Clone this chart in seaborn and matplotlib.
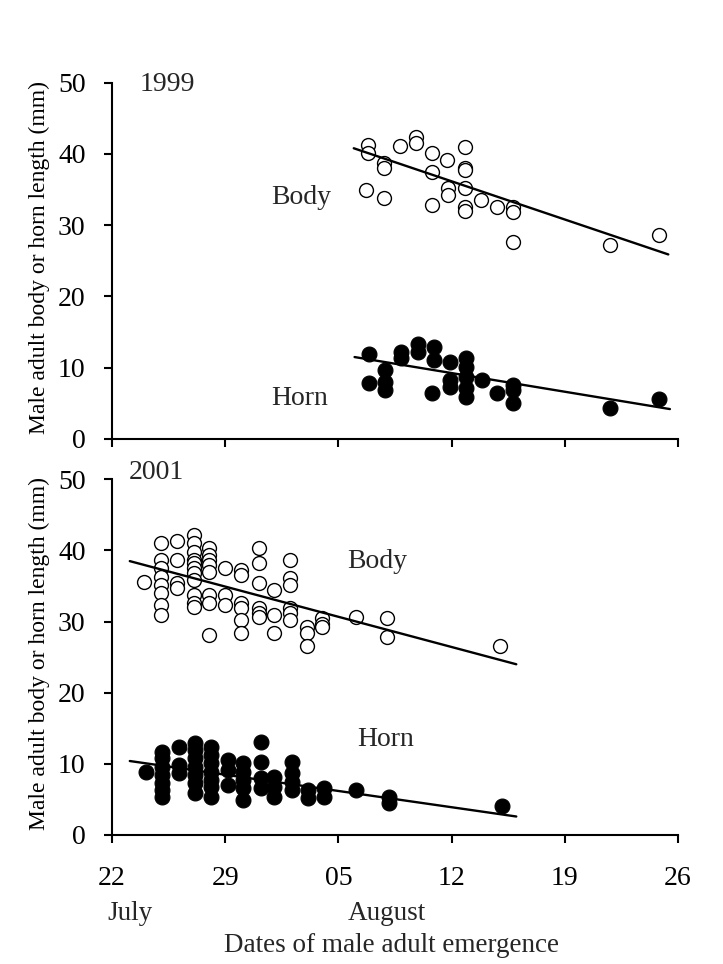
import matplotlib
matplotlib.use("Agg")
import matplotlib.pyplot as plt
import seaborn as sns

# ---------------- data (days after 22 July) ----------------
day_ticks = [0, 7, 14, 21, 28, 35]
day_tick_labels = ["22", "29", "05", "12", "19", "26"]

# 1999 panel
body99_day = [15.8, 15.8, 16.8, 16.8, 15.7, 16.8, 17.8, 18.8, 18.8, 19.8, 19.8, 19.8, 20.7, 20.8,
              20.8, 21.8, 21.8, 21.8, 21.8, 21.8, 21.8, 22.8, 23.8, 24.8, 24.8, 24.8, 30.8, 33.8]
body99_val = [41.2, 40.1, 38.7, 38.0, 34.9, 33.8, 41.1, 42.4, 41.5, 40.1, 37.5, 32.8, 39.1, 35.2,
              34.2, 41.0, 38.0, 37.8, 35.2, 32.6, 32.0, 33.5, 32.5, 32.5, 31.9, 27.7, 27.2, 28.6]
horn99_day = [15.9, 15.9, 16.9, 16.9, 16.9, 17.9, 17.9, 18.9, 18.9, 19.9, 19.9, 19.8, 20.9, 20.9,
              20.9, 21.9, 21.9, 21.9, 21.9, 21.9, 22.9, 23.8, 24.8, 24.8, 24.8, 30.8, 33.8]
horn99_val = [11.9, 7.8, 9.7, 8.0, 6.9, 12.2, 11.3, 13.4, 12.2, 12.9, 11.1, 6.4, 10.8, 8.3,
              7.3, 11.3, 10.1, 8.7, 7.1, 5.9, 8.3, 6.4, 7.6, 6.9, 5.0, 4.3, 5.6]
body99_fit_day = [14.95, 34.4]
body99_fit_val = [40.8, 25.9]
horn99_fit_day = [15.0, 34.5]
horn99_fit_val = [11.5, 4.2]

# 2001 panel
body01_day = ([2.0] + [3.0] * 8 + [4.05] * 4 + [5.1] * 11 + [6.0] * 8 + [7.0] * 3 + [8.0] * 6
              + [9.1] * 6 + [10.0] * 3 + [11.0] * 6 + [12.05] * 3 + [13.0] * 3 + [15.1] + [17.0] * 2 + [24.0])
body01_val = [35.5,
              41.0, 38.7, 37.5, 36.3, 35.2, 34.0, 32.3, 30.9,
              41.3, 38.7, 35.4, 34.7,
              42.2, 41.0, 39.8, 38.7, 38.2, 37.5, 36.8, 35.9, 33.8, 32.6, 32.1,
              40.3, 39.4, 38.7, 38.0, 37.0, 33.8, 32.6, 28.1,
              37.5, 33.8, 32.3,
              37.3, 36.6, 32.6, 31.9, 30.2, 28.4,
              40.3, 38.2, 35.4, 31.9, 31.2, 30.7,
              34.5, 30.9, 28.4,
              38.7, 36.1, 35.2, 31.9, 31.2, 30.2,
              29.3, 28.4, 26.5,
              30.5, 29.7, 29.3,
              30.7,
              30.5, 27.8,
              26.5]
horn01_day = ([2.1] + [3.1] * 7 + [4.15] * 3 + [5.15] * 7 + [6.1] * 7 + [7.15] * 3 + [8.1] * 5
              + [9.2] * 4 + [10.0] * 3 + [11.1] * 4 + [12.1] * 2 + [13.1] * 2 + [15.1] + [17.1] * 2 + [24.1])
horn01_val = [8.8,
              11.7, 10.8, 9.6, 8.4, 7.3, 6.3, 5.4,
              12.4, 9.8, 8.7,
              12.9, 12.0, 10.8, 9.6, 8.4, 7.3, 5.9,
              12.4, 11.3, 10.1, 8.9, 7.7, 6.8, 5.4,
              10.5, 9.1, 7.0,
              10.1, 8.9, 7.7, 6.6, 4.9,
              13.1, 10.3, 8.0, 6.6,
              8.2, 6.8, 5.4,
              10.3, 8.7, 7.5, 6.3,
              6.3, 5.2,
              6.6, 5.4,
              6.3,
              5.4, 4.5,
              4.1]
body01_fit_day = [1.1, 25.0]
body01_fit_val = [38.5, 24.0]
horn01_fit_day = [1.1, 25.0]
horn01_fit_val = [10.4, 2.6]

# ---------------- styling ----------------
sns.set_theme(style="ticks")
plt.rcParams['font.family'] = ['Liberation Serif', 'DejaVu Serif']
plt.rcParams['font.size'] = 20

W, H = 723, 964
fig = plt.figure(figsize=(W / 100, H / 100), dpi=100)
fig.patch.set_facecolor("white")

ax_left = 112 / W
ax_w = (678 - 112) / W
ax1 = fig.add_axes([ax_left, 1 - 439 / H, ax_w, (439 - 82.7) / H])
ax2 = fig.add_axes([ax_left, 1 - 835 / H, ax_w, (835 - 479.3) / H])

def draw_panel(ax, bd, bv, hd, hv, bfd, bfv, hfd, hfv):
    sns.scatterplot(x=bd, y=bv, ax=ax, marker="o", s=100, facecolor="white",
                    edgecolor="black", linewidth=1.0, zorder=2, legend=False)
    sns.scatterplot(x=hd, y=hv, ax=ax, marker="o", s=115, color="black",
                    edgecolor="black", linewidth=0.8, zorder=2, legend=False)
    sns.lineplot(x=bfd, y=bfv, ax=ax, color="black", linewidth=1.7, zorder=3,
                 estimator=None, sort=False)
    sns.lineplot(x=hfd, y=hfv, ax=ax, color="black", linewidth=1.7, zorder=3,
                 estimator=None, sort=False)
    ax.set_xlim(0, 35)
    ax.set_ylim(0, 50)
    ax.set_yticks([0, 10, 20, 30, 40, 50])
    ax.set_xticks(day_ticks)
    sns.despine(ax=ax)
    for sp in ["left", "bottom"]:
        ax.spines[sp].set_linewidth(1.5)
        ax.spines[sp].set_color("black")
    ax.tick_params(axis="both", direction="out", length=6, width=1.5, color="black",
                   labelsize=20, labelcolor="black")
    ax.tick_params(axis="y", pad=13)
    ax.tick_params(axis="x", pad=16)
    ax.set_facecolor("white")
    ax.set_xlabel("")
    ax.set_ylabel("Male adult body or horn length (mm)", fontsize=17, color="black")
    ax.yaxis.set_label_coords(-0.11, 0.51)

draw_panel(ax1, body99_day, body99_val, horn99_day, horn99_val,
           body99_fit_day, body99_fit_val, horn99_fit_day, horn99_fit_val)
draw_panel(ax2, body01_day, body01_val, horn01_day, horn01_val,
           body01_fit_day, body01_fit_val, horn01_fit_day, horn01_fit_val)

ax1.set_xticklabels([])
ax2.set_xticklabels(day_tick_labels)

ax1.text(0.049, 0.995, "1999", transform=ax1.transAxes, ha="left", va="center", fontsize=20)
ax1.text(11.7, 33.9, "Body", ha="center", va="center", fontsize=20)
ax1.text(11.6, 5.75, "Horn", ha="center", va="center", fontsize=20)

ax2.text(0.03, 1.02, "2001", transform=ax2.transAxes, ha="left", va="center", fontsize=20)
ax2.text(16.4, 38.4, "Body", ha="center", va="center", fontsize=20)
ax2.text(16.9, 13.4, "Horn", ha="center", va="center", fontsize=20)

tr = ax2.get_xaxis_transform()
ax2.text(-0.3, -0.22, "July", transform=tr, ha="left", va="center", fontsize=19.5)
ax2.text(14.6, -0.22, "August", transform=tr, ha="left", va="center", fontsize=19.5)
fig.text(392 / W, 1 - 945 / H, "Dates of male adult emergence", ha="center", va="center",
         fontsize=19.5)

fig.savefig("out.png", dpi=100, facecolor="white")
